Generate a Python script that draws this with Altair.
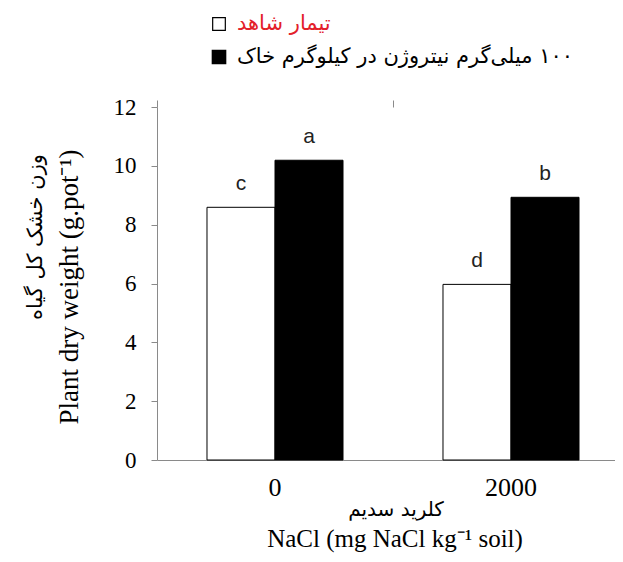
import altair as alt
import pandas as pd

nacl = ["0", "0", "2000", "2000"]
treatment = ["control", "nitrogen", "control", "nitrogen"]
weight = [8.59, 10.19, 5.97, 8.93]
letters = ["c", "a", "d", "b"]

legend_labels = ["تیمار شاهد", "\u200F۱۰۰ میلی\u200cگرم نیتروژن در کیلوگرم خاک"]
y_title_en = "Plant dry weight (g.pot\u207B\u00B9)"
y_title_fa = "وزن خشک کل گیاه"
x_title_en = "NaCl (mg NaCl kg\u207B\u00B9 soil)"
x_title_fa = "کلرید سدیم"
y_ticks = [0, 2, 4, 6, 8, 10, 12]

df = pd.DataFrame({"nacl": nacl, "trt": treatment, "w": weight, "lab": letters})

xscale = alt.Scale(domain=["0", "2000"], range=[0, 472], paddingInner=0, paddingOuter=0)
x_lab = alt.X("nacl:N", scale=xscale,
              axis=alt.Axis(title=None, ticks=False, domain=True, domainColor="#8a8a8a", labelAngle=0,
                            labelFont="Liberation Serif", labelFontSize=26, labelColor="black",
                            labelPadding=14, grid=False))
x_tick = alt.X("nacl:N", scale=xscale,
               axis=alt.Axis(title=None, bandPosition=0, labels=False, ticks=True, tickSize=7,
                             tickColor="#8a8a8a", domain=False, grid=False))
xo = alt.XOffset("trt:N", scale=alt.Scale(domain=["control", "nitrogen"], paddingInner=0, paddingOuter=0.735))
ys = alt.Y("w:Q", scale=alt.Scale(domain=[0, 12], nice=False),
           axis=alt.Axis(title=None, values=y_ticks, tickSize=6, labelPadding=15, tickColor="#8a8a8a",
                         domainColor="#8a8a8a", labelFont="Liberation Serif", labelFontSize=23,
                         labelColor="black", grid=False))

bars = alt.Chart(df).mark_bar(stroke="black", strokeWidth=1).encode(
    x=x_lab, xOffset=xo, y=ys,
    fill=alt.Fill("trt:N", scale=alt.Scale(domain=["control", "nitrogen"], range=["white", "black"]), legend=None),
)
labs = alt.Chart(df).mark_text(font="Liberation Sans", fontSize=21, baseline="alphabetic", dy=-17, color="#222").encode(
    x=x_tick, xOffset=xo, y=ys, text="lab:N")

def txt(s, x, y, size, font, angle=0, color="black", align="center"):
    return alt.Chart(pd.DataFrame({"t": [s]})).mark_text(
        fontSize=size, font=font, angle=angle, color=color, align=align, baseline="middle"
    ).encode(text="t:N", x=alt.value(x), y=alt.value(y))

t1 = txt(y_title_en, -87, 180, 27, "Liberation Serif", angle=270)
t2 = txt(y_title_fa, -121, 130, 21, "DejaVu Sans", angle=270)
t3 = txt(x_title_fa, 239, 403, 20, "DejaVu Sans")
t4 = txt(x_title_en, 238, 432, 25, "Liberation Serif")
l1 = txt(legend_labels[0], 80, -83, 21, "DejaVu Sans", color="#e3202a", align="left")
l2 = txt(legend_labels[1], 80, -50, 21, "DejaVu Sans", align="left")

sq_df = pd.DataFrame({"k": ["a"]})
s1 = alt.Chart(sq_df).mark_point(shape="square", size=160, filled=True, fill="white", stroke="black", strokeWidth=1.2, opacity=1).encode(
    x=alt.value(62), y=alt.value(-83))
s2 = alt.Chart(sq_df).mark_point(shape="square", size=160, filled=True, fill="black", stroke="black", opacity=1).encode(
    x=alt.value(62), y=alt.value(-50))

chart = alt.layer(bars, labs, t1, t2, t3, t4, l1, l2, s1, s2).resolve_axis(x="independent").properties(
    width=458, height=353,
    autosize=alt.AutoSizeParams(type="none"),
    padding={"left": 149, "top": 99, "right": 0, "bottom": 94},
    background="white",
).configure_view(stroke=None)

chart.save("out.html", embed_options={"renderer": "svg", "actions": False})
